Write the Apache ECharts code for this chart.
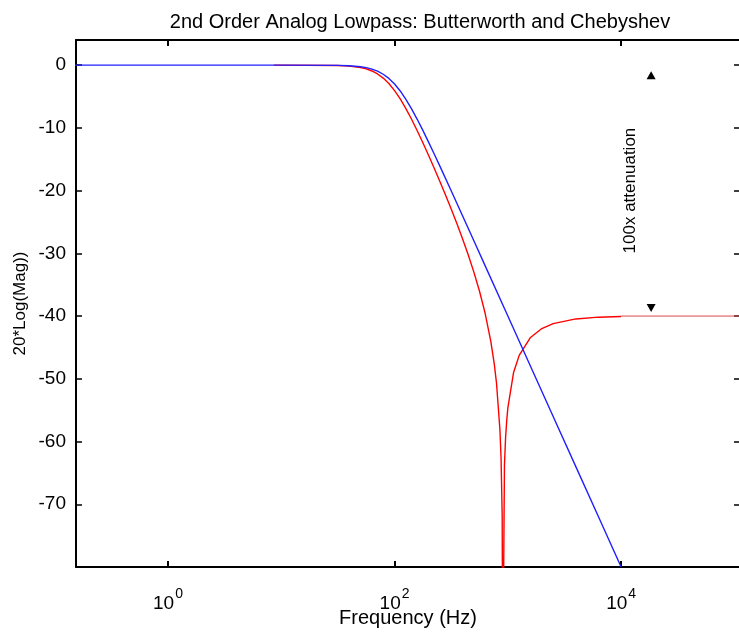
<!DOCTYPE html>
<html>
<head>
<meta charset="utf-8">
<script src="https://cdn.jsdelivr.net/npm/echarts@6/dist/echarts.min.js"></script>
<style>html,body{margin:0;padding:0;background:#fff}#c{width:739px;height:632px}</style>
</head>
<body>
<div id="c"></div>
<script>
// ---- data ----
const titleText = '2nd Order Analog Lowpass: Butterworth and Chebyshev';
const xName = 'Frequency (Hz)';
const yName = '20*Log(Mag))';
const xTickValues = [1, 100, 10000];
const yTickValues = [-70, -60, -50, -40, -30, -20, -10, 0];

const butterFreq = [0.15, 10, 31.6, 39.8, 50.1, 56.2, 63.1, 70.8, 79.4, 89.1, 100, 112.2, 125.9, 141.3, 158.5, 177.8, 199.5, 223.9, 251.2, 316.2, 398.1, 501.2, 631, 1000, 1585, 2512, 3981, 6310, 10000];
const butterDb   = [0, 0, -0.04, -0.11, -0.27, -0.41, -0.64, -0.97, -1.46, -2.12, -3.01, -4.12, -5.46, -6.97, -8.64, -10.41, -12.27, -14.16, -16.11, -20.04, -24.01, -28.01, -32.0, -40.0, -48.0, -56.0, -64.0, -72.0, -80.0];

const chebyFreq = [8.6, 31.6, 39.8, 50.1, 56.2, 63.1, 70.8, 79.4, 89.1, 100, 112.2, 125.9, 141.3, 158.5, 177.8, 199.5, 223.9, 251.2, 281.8, 316.2, 354.8, 398.1, 446.7, 501.2, 562.3, 631, 707.9, 758.6, 794.3, 851.1, 871, 891.3, 902, 933.3, 955, 977.2, 1000, 1122, 1259, 1585, 1995, 2512, 3981, 6310, 10000];
const chebyDb   = [0, -0.07, -0.16, -0.40, -0.61, -0.94, -1.41, -2.07, -2.94, -4.06, -5.39, -6.94, -8.63, -10.46, -12.38, -14.37, -16.43, -18.54, -20.7, -22.94, -25.25, -27.67, -30.23, -33.0, -36.05, -39.6, -44.07, -47.62, -50.71, -58.08, -62.6, -71.8, -100, -63.8, -59.4, -56.67, -54.65, -49.05, -46.27, -43.41, -41.99, -41.2, -40.46, -40.18, -40.07];

const tailFreq = [10000, 120000];
const tailDb   = [-40, -40];

const arrowUp   = [18400, -1.6];
const arrowDown = [18400, -38.7];
const noteText  = '100x attenuation';
const notePos   = [12000, -20];

const xMin = 0.1542, xMax = 112000, yMin = -80, yMax = 4;

// ---- chart ----
const zip = (a, b) => a.map((v, i) => [v, b[i]]);
const font = '"Liberation Sans", Arial, sans-serif';
const chart = echarts.init(document.getElementById('c'), null, {renderer: 'canvas'});

const baseX = {
  type: 'log', logBase: 10, min: xMin, max: xMax,
  axisLine: {show: true, onZero: false, lineStyle: {color: '#000', width: 2}},
  axisTick: {show: true, inside: true, length: 6, customValues: xTickValues, lineStyle: {color: '#000', width: 2}},
  splitLine: {show: false}, minorTick: {show: false}
};
const baseY = {
  type: 'value', min: yMin, max: yMax,
  axisLine: {show: true, onZero: false, lineStyle: {color: '#000', width: 2}},
  axisTick: {show: true, inside: true, length: 6, customValues: yTickValues, lineStyle: {color: '#000', width: 1.5}},
  splitLine: {show: false}
};

chart.setOption({
  animation: false,
  backgroundColor: '#fff',
  title: {
    text: titleText, left: 415, textAlign: 'center', top: 7,
    textStyle: {fontFamily: font, fontSize: 20, fontWeight: 'normal', color: '#000'}
  },
  grid: {left: 76, top: 40, width: 664, height: 527, containLabel: false, outerBoundsMode: 'none'},
  xAxis: [
    Object.assign({}, baseX, {
      position: 'bottom',
      name: xName, nameLocation: 'middle', nameGap: 41, nameMoveOverlap: false,
      nameTextStyle: {fontFamily: font, fontSize: 20, color: '#000'},
      axisLabel: {
        show: true, customValues: xTickValues, margin: 20, color: '#000',
        formatter: v => '{b|10}{s|' + Math.round(Math.log10(v)) + '}',
        rich: {
          b: {fontFamily: font, fontSize: 19, color: '#000', verticalAlign: 'bottom'},
          s: {fontFamily: font, fontSize: 14, color: '#000', verticalAlign: 'top', padding: [0, 0, 12, 1]}
        }
      }
    }),
    Object.assign({}, baseX, {position: 'top', axisLabel: {show: false}})
  ],
  yAxis: [
    Object.assign({}, baseY, {
      position: 'left',
      name: yName, nameLocation: 'middle', nameGap: 47, nameRotate: 90, nameMoveOverlap: false,
      nameTextStyle: {fontFamily: font, fontSize: 17, color: '#000'},
      axisLabel: {show: true, customValues: yTickValues, margin: 10, fontFamily: font, fontSize: 19, color: '#000'}
    }),
    Object.assign({}, baseY, {position: 'right', axisLabel: {show: false}})
  ],
  series: [
    {
      type: 'line', name: 'Chebyshev', data: zip(chebyFreq, chebyDb),
      xAxisIndex: 0, yAxisIndex: 0, showSymbol: false, clip: true,
      lineStyle: {color: '#ff0000', width: 1.4}
    },
    {
      type: 'line', name: 'tail', data: zip(tailFreq, tailDb),
      xAxisIndex: 0, yAxisIndex: 0, showSymbol: false, clip: true,
      lineStyle: {color: '#e04848', width: 1}
    },
    {
      type: 'line', name: 'Butterworth', data: zip(butterFreq, butterDb),
      xAxisIndex: 0, yAxisIndex: 0, showSymbol: false, clip: true,
      lineStyle: {color: '#2020ff', width: 1.4}
    },
    {
      type: 'scatter', data: [arrowUp], symbol: 'triangle', symbolSize: [9, 8],
      itemStyle: {color: '#000', opacity: 1}, silent: true
    },
    {
      type: 'scatter', data: [arrowDown], symbol: 'triangle', symbolRotate: 180, symbolSize: [9, 8],
      itemStyle: {color: '#000', opacity: 1}, silent: true
    },
    {
      type: 'scatter', data: [notePos], symbolSize: 0, silent: true,
      itemStyle: {opacity: 1},
      label: {show: true, position: 'inside', rotate: 90, formatter: noteText,
              fontFamily: font, fontSize: 17, color: '#000', opacity: 1}
    }
  ]
});
</script>
</body>
</html>
